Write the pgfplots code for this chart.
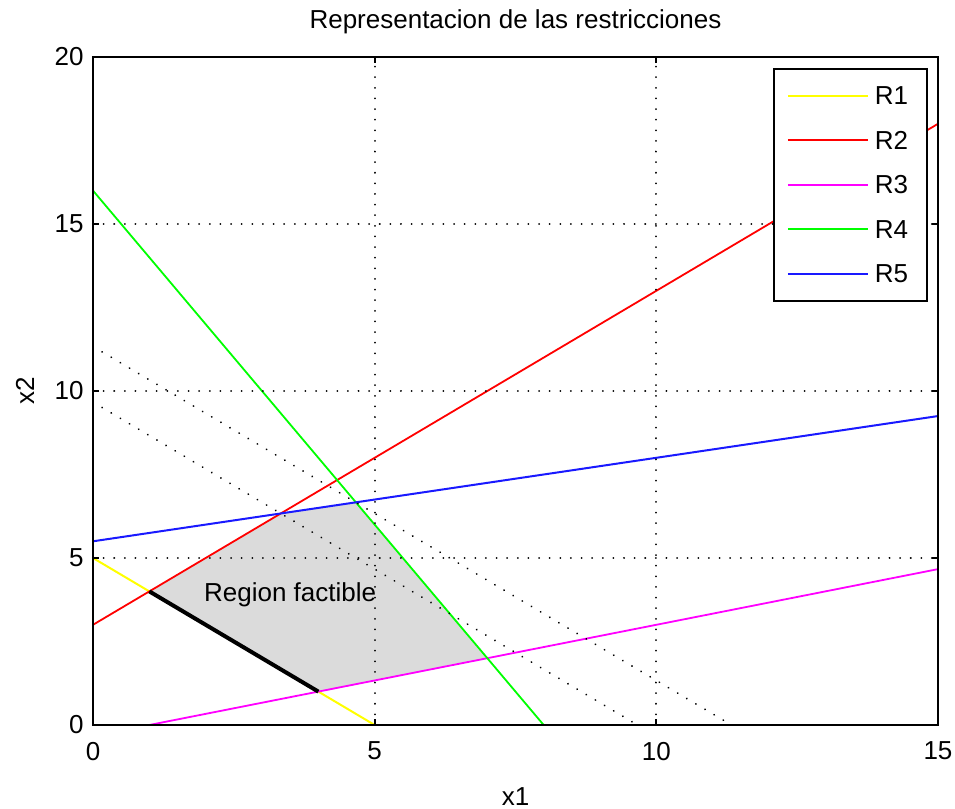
\documentclass[border=0pt]{standalone}
\usepackage{pgfplots}
\pgfplotsset{compat=1.18}
\usepackage{fontspec}
\setmainfont{Liberation Sans}
\definecolor{regiongray}{rgb}{0.86,0.86,0.86}
\definecolor{cR1}{rgb}{1,1,0}
\definecolor{cR2}{rgb}{1,0,0}
\definecolor{cR3}{rgb}{1,0,1}
\definecolor{cR4}{rgb}{0,1,0}
\definecolor{cR5}{rgb}{0.1,0.1,1}
\begin{document}
\begin{tikzpicture}[font=\fontsize{13}{15}\selectfont]
\begin{axis}[
  scale only axis,
  width=422.5pt, height=334pt,
  xmin=0, xmax=15, ymin=0, ymax=20,
  xtick={0,5,10,15}, ytick={0,5,10,15,20},
  tick align=inside, tick pos=both, major tick length=3pt,
  axis line style={line width=1pt},
  every tick/.style={black, line width=1pt},
  grid=major,
  major grid style={black, line width=1pt, line cap=round, dash pattern=on 0.01pt off 5.3pt},
  axis on top,
  /pgf/number format/assume math mode=true,
  tick label style={font=\fontsize{13}{15}\selectfont},
  xticklabel style={yshift=-5pt},
  yticklabel style={xshift=-1.2pt},
  title={Representacion de las restricciones},
  title style={at={(axis description cs:0.5,1.0344)}, anchor=center, font=\fontsize{13}{15}\selectfont},
  xlabel={x1},
  xlabel style={at={(axis description cs:0.5,-0.1078)}, anchor=center, font=\fontsize{13}{15}\selectfont},
  ylabel={x2},
  ylabel style={at={(axis description cs:-0.0805,0.5)}, anchor=center, font=\fontsize{13}{15}\selectfont},
  legend image code/.code={\draw[#1, line width=1pt] (0pt,0pt) -- (40pt,0pt);},
  legend cell align=left,
  legend style={at={(axis description cs:1,1)}, anchor=north east, xshift=-5pt, yshift=-5.5pt,
    draw=black, line width=0.8pt, fill=white, inner xsep=6.5pt, inner ysep=2.5pt, row sep=0pt,
    nodes={minimum height=22.2pt, inner xsep=3pt, inner ysep=0pt, text depth=0pt},
    font=\fontsize{13}{15}\selectfont},
]
\coordinate (SW) at (rel axis cs:0,0);
\coordinate (NE) at (rel axis cs:1,1);
% feasible region
\addplot[fill=regiongray, draw=none, forget plot] coordinates {
  (1,4) (4,1) (7,2) (4.6667,6.6667) (3.3333,6.3333)} -- cycle;
\addplot[color=cR1, line width=1pt] coordinates {(0,5) (5,0)};
\addlegendentry{R1}
\addplot[color=cR2, line width=0.9pt] coordinates {(0,3) (15,18)};
\addlegendentry{R2}
\addplot[color=cR3, line width=0.9pt] coordinates {(1,0) (15,4.6667)};
\addlegendentry{R3}
\addplot[color=cR4, line width=0.9pt] coordinates {(0,16) (8,0)};
\addlegendentry{R4}
\addplot[color=cR5, line width=1pt] coordinates {(0,5.5) (15,9.25)};
\addlegendentry{R5}
\addplot[black, line width=2pt, forget plot] coordinates {(1,4) (4,1)};
\addplot[black, line width=1pt, line cap=round, dash pattern=on 0.01pt off 5.3pt, forget plot] coordinates {(0,11.3333) (11.3333,0)};
\addplot[black, line width=1pt, line cap=round, dash pattern=on 0.01pt off 5.3pt, forget plot] coordinates {(0,9.6667) (9.6667,0)};
\node[font=\fontsize{13}{15}\selectfont] at (axis cs:3.5,3.89) {Region factible};
\end{axis}
\pgfresetboundingbox
\path ([shift={(-46.5pt,-42pt)}]SW) rectangle ([shift={(8.5pt,28.5pt)}]NE);
\end{tikzpicture}
\end{document}
